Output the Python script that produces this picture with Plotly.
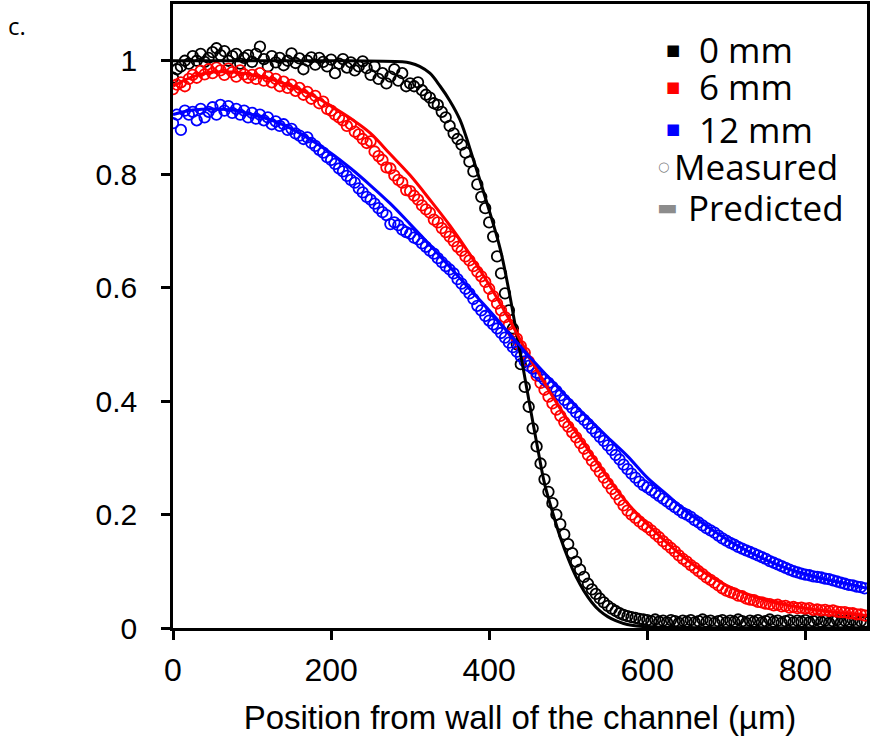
import plotly.graph_objects as go

# measurement positions (µm)
X_MEASURED = [
    0, 5, 10, 15, 20, 25, 30, 35, 40, 45, 50, 55, 60, 65, 70, 75, 80, 85, 90, 95,
    100, 105, 110, 115, 120, 125, 130, 135, 140, 145, 150, 155, 160, 165, 170, 175, 180, 185, 190, 195,
    200, 205, 210, 215, 220, 225, 230, 235, 240, 245, 250, 255, 260, 265, 270, 275, 280, 285, 290, 295,
    300, 305, 310, 315, 320, 325, 330, 335, 340, 345, 350, 355, 360, 365, 370, 375, 380, 385, 390, 395,
    400, 405, 410, 415, 420, 425, 430, 435, 440, 445, 450, 455, 460, 465, 470, 475, 480, 485, 490, 495,
    500, 505, 510, 515, 520, 525, 530, 535, 540, 545, 550, 555, 560, 565, 570, 575, 580, 585, 590, 595,
    600, 605, 610, 615, 620, 625, 630, 635, 640, 645, 650, 655, 660, 665, 670, 675, 680, 685, 690, 695,
    700, 705, 710, 715, 720, 725, 730, 735, 740, 745, 750, 755, 760, 765, 770, 775, 780, 785, 790, 795,
    800, 805, 810, 815, 820, 825, 830, 835, 840, 845, 850, 855, 860, 865, 870, 875,
]

MEASURED_0MM = [
    0.970, 0.985, 0.990, 1.000, 0.995, 1.008, 1.000, 1.012, 0.998, 1.005,
    1.015, 1.022, 1.010, 1.017, 1.000, 1.008, 1.012, 0.995, 1.005, 1.010,
    0.998, 1.012, 1.025, 1.003, 0.990, 1.008, 0.997, 1.005, 0.992, 1.000,
    1.013, 0.996, 1.004, 0.985, 1.000, 1.006, 0.993, 1.005, 0.998, 0.990,
    1.002, 0.978, 0.995, 1.003, 0.988, 0.997, 0.983, 0.990, 0.999, 0.987,
    0.975, 0.990, 0.968, 0.978, 0.960, 0.972, 0.985, 0.965, 0.978, 0.955,
    0.960, 0.955, 0.962, 0.948, 0.940, 0.935, 0.925, 0.922, 0.910, 0.900,
    0.885, 0.872, 0.862, 0.852, 0.838, 0.822, 0.805, 0.782, 0.760, 0.740,
    0.715, 0.690, 0.655, 0.625, 0.590, 0.560, 0.528, 0.500, 0.465, 0.425,
    0.390, 0.352, 0.320, 0.290, 0.262, 0.240, 0.220, 0.200, 0.183, 0.165,
    0.148, 0.132, 0.117, 0.103, 0.090, 0.078, 0.068, 0.060, 0.052, 0.045,
    0.039, 0.034, 0.030, 0.026, 0.023, 0.021, 0.019, 0.018, 0.016, 0.015,
    0.014, 0.012, 0.015, 0.011, 0.013, 0.010, 0.014, 0.012, 0.009, 0.013,
    0.011, 0.014, 0.010, 0.012, 0.015, 0.011, 0.013, 0.009, 0.012, 0.014,
    0.010, 0.013, 0.011, 0.015, 0.012, 0.009, 0.013, 0.011, 0.014, 0.010,
    0.012, 0.015, 0.011, 0.013, 0.009, 0.012, 0.014, 0.010, 0.013, 0.011,
    0.014, 0.010, 0.012, 0.015, 0.011, 0.013, 0.009, 0.012, 0.014, 0.010,
    0.013, 0.011, 0.014, 0.010, 0.012, 0.011,
]

MEASURED_6MM = [
    0.950, 0.958, 0.962, 0.955, 0.968, 0.975, 0.970, 0.982, 0.976, 0.985,
    0.978, 0.988, 0.983, 0.975, 0.986, 0.980, 0.972, 0.983, 0.976, 0.970,
    0.975, 0.968, 0.978, 0.965, 0.972, 0.962, 0.968, 0.955, 0.963, 0.952,
    0.958, 0.947, 0.952, 0.940, 0.945, 0.933, 0.938, 0.925, 0.928, 0.915,
    0.912, 0.905, 0.900, 0.895, 0.885, 0.888, 0.875, 0.870, 0.862, 0.855,
    0.858, 0.840, 0.832, 0.825, 0.812, 0.810, 0.798, 0.790, 0.785, 0.772,
    0.770, 0.762, 0.755, 0.745, 0.738, 0.732, 0.720, 0.715, 0.705, 0.698,
    0.690, 0.682, 0.672, 0.665, 0.655, 0.648, 0.638, 0.628, 0.620, 0.610,
    0.598, 0.585, 0.572, 0.560, 0.548, 0.535, 0.522, 0.510, 0.497, 0.485,
    0.470, 0.458, 0.445, 0.432, 0.420, 0.408, 0.396, 0.385, 0.374, 0.363,
    0.355, 0.345, 0.336, 0.326, 0.316, 0.305, 0.295, 0.285, 0.275, 0.265,
    0.255, 0.245, 0.236, 0.226, 0.216, 0.207, 0.200, 0.194, 0.188, 0.182,
    0.178, 0.172, 0.166, 0.160, 0.153, 0.147, 0.141, 0.135, 0.128, 0.122,
    0.117, 0.111, 0.106, 0.100, 0.095, 0.089, 0.085, 0.080, 0.075, 0.070,
    0.066, 0.063, 0.061, 0.057, 0.056, 0.052, 0.050, 0.049, 0.046, 0.045,
    0.043, 0.042, 0.040, 0.041, 0.038, 0.039, 0.036, 0.037, 0.035, 0.036,
    0.034, 0.035, 0.032, 0.033, 0.031, 0.032, 0.030, 0.031, 0.029, 0.028,
    0.028, 0.026, 0.026, 0.024, 0.024, 0.022,
]

MEASURED_12MM = [
    0.890, 0.905, 0.878, 0.912, 0.905, 0.910, 0.895, 0.915, 0.900, 0.910,
    0.918, 0.905, 0.922, 0.912, 0.920, 0.908, 0.915, 0.905, 0.912, 0.900,
    0.908, 0.898, 0.905, 0.895, 0.900, 0.888, 0.893, 0.885, 0.888, 0.878,
    0.880, 0.872, 0.868, 0.862, 0.865, 0.855, 0.850, 0.843, 0.838, 0.830,
    0.825, 0.818, 0.810, 0.805, 0.797, 0.790, 0.785, 0.775, 0.768, 0.760,
    0.755, 0.748, 0.740, 0.733, 0.728, 0.712, 0.715, 0.710, 0.702, 0.698,
    0.695, 0.688, 0.685, 0.678, 0.672, 0.665, 0.660, 0.652, 0.645, 0.638,
    0.632, 0.625, 0.615, 0.607, 0.598, 0.590, 0.580, 0.568, 0.560, 0.550,
    0.542, 0.535, 0.528, 0.520, 0.512, 0.503, 0.495, 0.487, 0.479, 0.470,
    0.462, 0.457, 0.450, 0.444, 0.438, 0.432, 0.425, 0.418, 0.410, 0.402,
    0.395, 0.388, 0.380, 0.373, 0.367, 0.360, 0.352, 0.345, 0.337, 0.330,
    0.322, 0.314, 0.305, 0.297, 0.288, 0.280, 0.272, 0.265, 0.258, 0.252,
    0.248, 0.243, 0.238, 0.233, 0.228, 0.223, 0.218, 0.213, 0.208, 0.203,
    0.200, 0.196, 0.190, 0.186, 0.181, 0.176, 0.172, 0.168, 0.163, 0.158,
    0.154, 0.150, 0.147, 0.143, 0.140, 0.137, 0.134, 0.131, 0.128, 0.125,
    0.122, 0.118, 0.115, 0.112, 0.109, 0.106, 0.103, 0.100, 0.098, 0.096,
    0.094, 0.093, 0.091, 0.090, 0.089, 0.087, 0.086, 0.084, 0.082, 0.080,
    0.078, 0.076, 0.075, 0.073, 0.072, 0.070,
]

# predicted profiles
X_PRED_0MM = [0, 100, 200, 290, 300, 312, 325, 338, 350, 363, 380, 397, 414, 426, 435, 443,
              452, 462, 470, 480, 490, 500, 510, 520, 530, 540, 550, 560, 570, 580, 600, 650, 878]
PRED_0MM = [1.0, 1.0, 1.0, 0.998, 0.996, 0.99, 0.978, 0.955, 0.93, 0.896, 0.826, 0.75, 0.668, 0.587,
            0.517, 0.458, 0.388, 0.312, 0.255, 0.205, 0.16, 0.122, 0.09, 0.065, 0.045, 0.03, 0.02,
            0.013, 0.008, 0.005, 0.002, 0.0005, 0.0]

X_PRED = [0, 25, 50, 75, 100, 125, 150, 175, 200, 225, 250, 275, 300, 325, 350, 375, 400, 425, 450,
          475, 500, 525, 550, 575, 600, 625, 650, 675, 700, 725, 750, 775, 800, 825, 850, 878]
PRED_6MM = [0.955, 0.972, 0.98, 0.98, 0.975, 0.967, 0.955, 0.94, 0.92, 0.898, 0.872, 0.835, 0.798,
            0.755, 0.71, 0.66, 0.605, 0.545, 0.48, 0.42, 0.365, 0.315, 0.265, 0.22, 0.183, 0.15,
            0.12, 0.095, 0.075, 0.06, 0.049, 0.041, 0.035, 0.03, 0.026, 0.022]
PRED_12MM = [0.905, 0.913, 0.915, 0.913, 0.905, 0.895, 0.88, 0.86, 0.837, 0.81, 0.78, 0.748, 0.712,
             0.675, 0.637, 0.598, 0.56, 0.52, 0.48, 0.442, 0.405, 0.37, 0.336, 0.303, 0.265, 0.235,
             0.205, 0.18, 0.157, 0.137, 0.12, 0.106, 0.095, 0.086, 0.079, 0.07]

SERIES_NAMES = ["0 mm", "6 mm", "12 mm"]
SERIES_COLORS = ["#000000", "#ff0000", "#0000ff"]
MEASURED = [MEASURED_0MM, MEASURED_6MM, MEASURED_12MM]
PRED_X = [X_PRED_0MM, X_PRED, X_PRED]
PRED_Y = [PRED_0MM, PRED_6MM, PRED_12MM]

Y_TICKS = [0, 0.2, 0.4, 0.6, 0.8, 1.0]
Y_TICK_TEXT = ["0", "0.2", "0.4", "0.6", "0.8", "1"]
X_TICKS = [0, 200, 400, 600, 800]

LEGEND_LABELS = SERIES_NAMES + ["Measured", "Predicted"]
LEGEND_SYMBOLS = ["■", "■", "■", "○", "▬"]
LEGEND_SYMBOL_COLORS = SERIES_COLORS + ["#808080", "#8c8c8c"]

fig = go.Figure()

for color, measured in zip(SERIES_COLORS, MEASURED):
    fig.add_trace(go.Scatter(
        x=X_MEASURED, y=measured, mode="markers", showlegend=False,
        marker={"symbol": "circle-open", "size": 10.5, "color": color,
                "line": {"width": 1.8, "color": color}},
    ))
for color, xs, ys in zip(SERIES_COLORS, PRED_X, PRED_Y):
    fig.add_trace(go.Scatter(
        x=xs, y=ys, mode="lines", showlegend=False,
        line={"color": color, "width": 3, "shape": "spline"},
    ))

# legend drawn as text rows (row centres, label left edges, symbol centres in paper units)
row_y = [0.9266, 0.8676, 0.799, 0.74, 0.6746]
label_x = [0.7565, 0.7565, 0.7565, 0.721, 0.7406]
symbol_x = [0.7205, 0.7205, 0.7205, 0.707, 0.712]
symbol_size = [15, 15, 15, 13, 22]
for label, sym, scol, ry, lx, sx, ss in zip(LEGEND_LABELS, LEGEND_SYMBOLS, LEGEND_SYMBOL_COLORS,
                                            row_y, label_x, symbol_x, symbol_size):
    fig.add_annotation(
        text=sym, xref="paper", yref="paper", x=sx, y=ry, xanchor="center", yanchor="middle",
        showarrow=False, borderpad=0, font={"family": "DejaVu Sans", "size": ss, "color": scol},
    )
    fig.add_annotation(
        text=label, xref="paper", yref="paper", x=lx, y=ry, xanchor="left", yanchor="middle",
        showarrow=False, borderpad=0, font={"family": "Open Sans", "size": 35, "color": "#000000"},
    )

fig.add_annotation(
    text="c.", xref="paper", yref="paper", x=-0.24, y=0.965, xanchor="left", yanchor="middle",
    showarrow=False, font={"family": "Open Sans", "size": 24, "color": "#000000"},
)

fig.update_layout(
    width=871,
    height=748,
    margin={"l": 173, "r": 4, "t": 1, "b": 120},
    plot_bgcolor="#ffffff",
    paper_bgcolor="#ffffff",
    font={"family": "Liberation Sans", "color": "#000000"},
    showlegend=False,
)
fig.update_xaxes(
    range=[0, 878], tickvals=X_TICKS, showgrid=False, zeroline=False,
    showline=True, linecolor="#000000", linewidth=2.5, mirror=True,
    ticks="outside", ticklen=9, tickwidth=2.5, tickcolor="#000000",
    tickfont={"size": 32}, ticklabelstandoff=3,
    title={"text": "Position from wall of the channel (µm)", "font": {"size": 33}, "standoff": 19},
)
fig.update_yaxes(
    range=[0, 1.1], tickvals=Y_TICKS, ticktext=Y_TICK_TEXT, showgrid=False, zeroline=False,
    showline=True, linecolor="#000000", linewidth=2.5, mirror=True,
    ticks="outside", ticklen=9, tickwidth=2.5, tickcolor="#000000",
    tickfont={"size": 30}, ticklabelstandoff=18,
)

fig.write_html(
    "out.html",
    config={"displayModeBar": False},
    post_script="document.body.style.margin = '0';",
)
